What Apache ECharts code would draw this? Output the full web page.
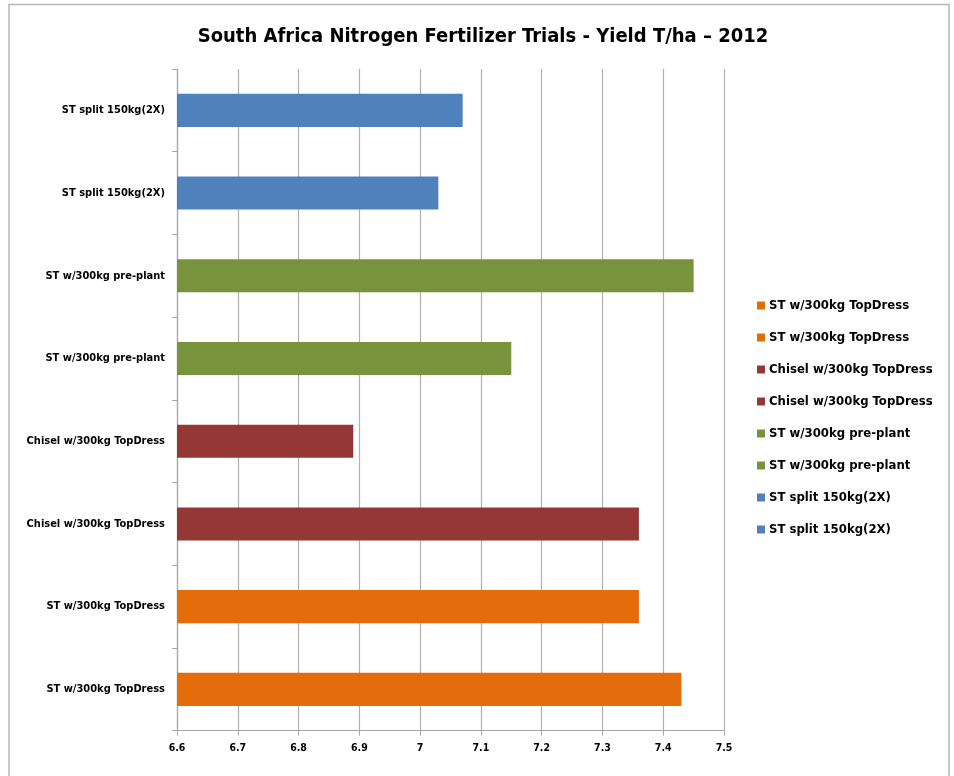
<!DOCTYPE html>
<html>
<head>
<meta charset="utf-8">
<script src="https://cdn.jsdelivr.net/npm/echarts@6/dist/echarts.min.js"></script>
<style>
html,body{margin:0;padding:0;background:#fff;}
#chart{width:954px;height:776px;}
</style>
</head>
<body>
<div id="chart"></div>
<script>
// Categories listed bottom to top
var categories = [
  "ST w/300kg TopDress",
  "ST w/300kg TopDress",
  "Chisel w/300kg TopDress",
  "Chisel w/300kg TopDress",
  "ST w/300kg pre-plant",
  "ST w/300kg pre-plant",
  "ST split 150kg(2X)",
  "ST split 150kg(2X)"
];
var yields = [7.43, 7.36, 7.36, 6.89, 7.15, 7.45, 7.03, 7.07];
var barColors = ["#E46C0A", "#E46C0A", "#953735", "#953735", "#77933C", "#77933C", "#4F81BD", "#4F81BD"];
var xTicks = { min: 6.6, max: 7.5, interval: 0.1 };
var titleText = "South Africa Nitrogen Fertilizer Trials - Yield T/ha \u2013 2012";

var FONT = "'Liberation Sans Narrow', 'DejaVu Sans Condensed', 'Liberation Sans', sans-serif";

// unique series names (legend skips duplicates), padded with zero-width spaces
function uniqueName(name, i) {
  var s = name;
  for (var k = 0; k < i; k++) s += "\u200b";
  return s;
}

var series = categories.map(function (cat, i) {
  var data = categories.map(function (_, j) { return j === i ? yields[j] : '-'; });
  return {
    name: uniqueName(cat, i),
    type: 'bar',
    data: data,
    barWidth: '40%',
    barGap: '-100%',
    itemStyle: { color: barColors[i] },
    clip: true
  };
});

var chart = echarts.init(document.getElementById('chart'));
chart.setOption({
  animation: false,
  backgroundColor: '#ffffff',
  color: barColors,
  graphic: [{
    type: 'rect',
    shape: { x: 9, y: 4.5, width: 940, height: 790 },
    style: { fill: 'none', stroke: '#b8b8b8', lineWidth: 1.5 },
    silent: true, z: -10
  }],
  title: {
    text: titleText,
    left: 478, top: 22, textAlign: 'center',
    textStyle: { fontFamily: FONT, fontWeight: 'bold', fontSize: 20, color: '#000' }
  },
  legend: {
    orient: 'vertical',
    left: 752, top: 293,
    itemWidth: 8, itemHeight: 8, itemGap: 17,
    icon: 'rect',
    textStyle: { fontFamily: FONT, fontWeight: 'bold', fontSize: 13, lineHeight: 15, color: '#000', padding: [0, 0, 0, -1] },
    data: series.map(function (s) { return s.name; })
  },
  grid: { left: 177, right: 230, top: 69, bottom: 45.3, containLabel: false },
  xAxis: {
    type: 'value',
    min: xTicks.min, max: xTicks.max, interval: xTicks.interval,
    axisLine: { show: true, lineStyle: { color: '#a6a6a6', width: 1.2 } },
    axisTick: { show: true, length: 5, lineStyle: { color: '#a6a6a6' } },
    splitLine: { show: true, lineStyle: { color: '#b0b0b0', width: 1.2 } },
    axisLabel: {
      margin: 12,
      fontFamily: FONT, fontWeight: 'bold', fontSize: 10.5, color: '#000',
      formatter: function (v) { return String(Math.round(v * 10) / 10); }
    }
  },
  yAxis: {
    type: 'category',
    data: categories,
    axisLine: { show: true, lineStyle: { color: '#a6a6a6', width: 1.2 } },
    axisTick: { show: true, length: 5, alignWithLabel: false, lineStyle: { color: '#a6a6a6' } },
    axisLabel: {
      margin: 12,
      fontFamily: FONT, fontWeight: 'bold', fontSize: 11, color: '#000'
    }
  },
  series: series
});
</script>
</body>
</html>
